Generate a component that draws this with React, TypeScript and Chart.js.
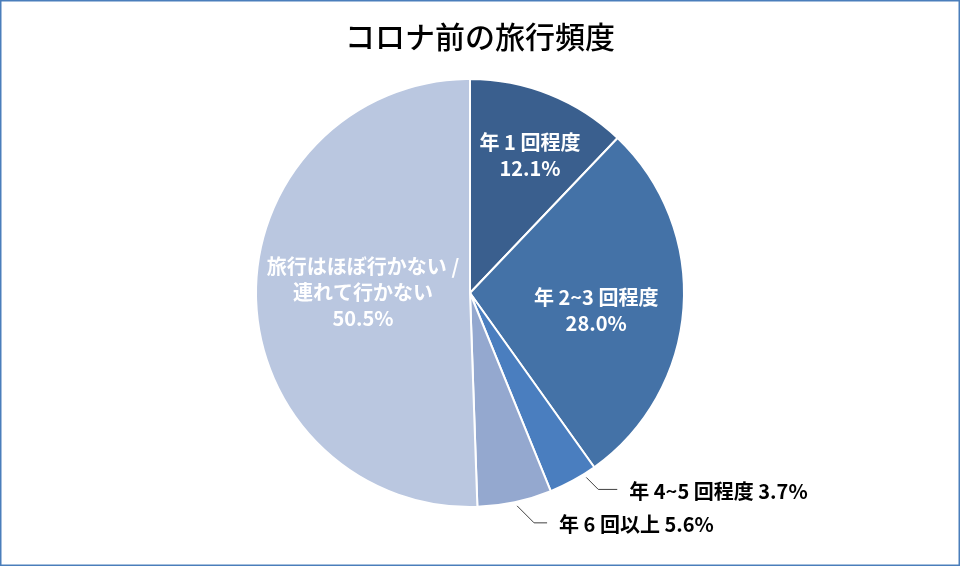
import React, { useEffect, useRef } from "react";
import { Chart, registerables } from "chart.js";

Chart.register(...registerables);

const title = "コロナ前の旅行頻度";
const categories = [
  "年 1 回程度",
  "年 2~3 回程度",
  "年 4~5 回程度",
  "年 6 回以上",
  "旅行はほぼ行かない /\n連れて行かない",
];
const values = [12.1, 28.0, 3.7, 5.6, 50.5];
const colors = ["#3A5F8E", "#4472A7", "#4A7EBF", "#94A8CF", "#BAC7E0"];

// label placement styles (per slice)
const labelStyles = [
  { inside: true, rf: 0.703, da: 1.7 },
  { inside: true, rf: 0.595, da: 3.7 },
  { inside: false, da: -3.4, diag: 12, horiz: 19 },
  { inside: false, da: -0.4, diag: 17, horiz: 13 },
  { inside: true, rf: 0.5, da: 1.2 },
];

const FONT = "'Noto Sans CJK JP', 'Noto Sans', sans-serif";

const labelPlugin = {
  id: "customLabels",
  afterDraw(chart: any) {
    const ctx = chart.ctx as CanvasRenderingContext2D;
    const meta = chart.getDatasetMeta(0);
    ctx.save();
    // frame
    ctx.strokeStyle = "#4A7EBB";
    ctx.lineWidth = 1.5;
    ctx.strokeRect(0.75, 0.75, chart.width - 1.5, chart.height - 1.5);
    // title
    ctx.fillStyle = "#000";
    ctx.font = `500 30px ${FONT}`;
    ctx.textAlign = "center";
    ctx.textBaseline = "middle";
    ctx.fillText(title, 480, 37);

    meta.data.forEach((arc: any, i: number) => {
      const p = arc.getProps(["x", "y", "startAngle", "endAngle", "outerRadius"], true);
      const st = labelStyles[i];
      const mid = (p.startAngle + p.endAngle) / 2 + (st.da * Math.PI) / 180;
      const lines = categories[i].split("\n");
      const pct = values[i].toFixed(1) + "%";
      ctx.font = `bold 20px ${FONT}`;
      ctx.textBaseline = "middle";
      if (st.inside) {
        const all = [...lines, pct];
        const r = p.outerRadius * (st.rf as number);
        const cx = p.x + r * Math.cos(mid);
        const cy = p.y + r * Math.sin(mid);
        const lh = 26;
        ctx.fillStyle = "#FFFFFF";
        ctx.textAlign = "center";
        all.forEach((t, k) => {
          ctx.fillText(t, cx, cy + (k - (all.length - 1) / 2) * lh);
        });
      } else {
        const r0 = p.outerRadius + 4;
        const sx = p.x + r0 * Math.cos(mid);
        const sy = p.y + r0 * Math.sin(mid);
        const ex = sx + (st.diag as number);
        const ey = sy + (st.diag as number);
        const hx = ex + (st.horiz as number);
        ctx.strokeStyle = "#404040";
        ctx.lineWidth = 1;
        ctx.beginPath();
        ctx.moveTo(sx, sy);
        ctx.lineTo(ex, ey);
        ctx.lineTo(hx, ey);
        ctx.stroke();
        ctx.fillStyle = "#000";
        ctx.textAlign = "left";
        ctx.fillText(lines.join(" ") + " " + pct, hx + 12, ey + 2);
      }
    });
    ctx.restore();
  },
};

export default function App() {
  const ref = useRef<HTMLCanvasElement | null>(null);
  useEffect(() => {
    if (!ref.current) return;
    const chart = new Chart(ref.current, {
      type: "pie",
      data: {
        labels: categories,
        datasets: [
          {
            data: values,
            backgroundColor: colors,
            borderColor: "#FFFFFF",
            borderWidth: 2,
          },
        ],
      },
      options: {
        responsive: false,
        animation: false,
        layout: { padding: { top: 78, bottom: 58, left: 255, right: 275 } },
        plugins: {
          legend: { display: false },
          tooltip: { enabled: false },
          title: { display: false },
        },
      },
      plugins: [labelPlugin],
    });
    return () => chart.destroy();
  }, []);
  return (
    <div style={{ position: "absolute", left: 0, top: 0, width: 960, height: 566, background: "#fff" }}>
      <canvas ref={ref} width={960} height={566} style={{ display: "block" }} />
    </div>
  );
}
